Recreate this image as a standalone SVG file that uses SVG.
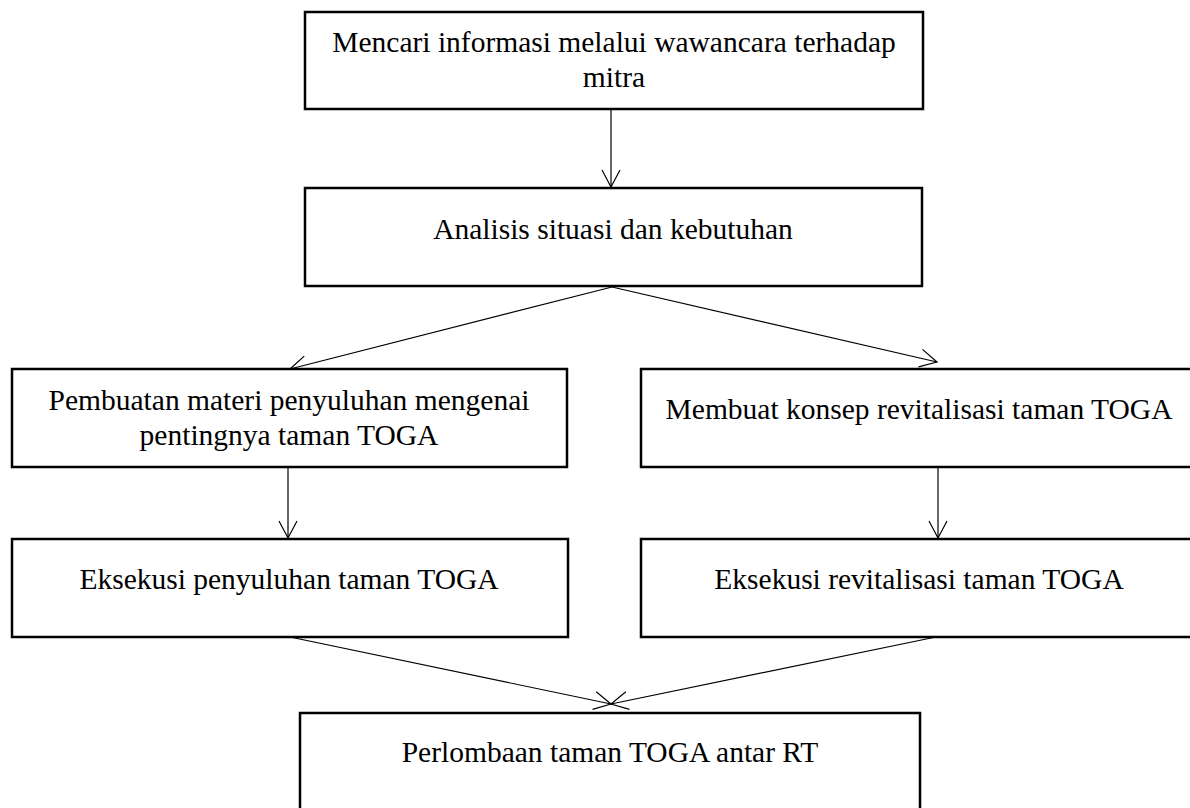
<svg xmlns="http://www.w3.org/2000/svg" width="1190" height="808" viewBox="0 0 1190 808">
<style>
.box{fill:#fff;stroke:#000;stroke-width:2.5}
.t{font-family:"Liberation Serif","Times New Roman",serif;font-size:29.5px;fill:#000;text-anchor:middle}
.c{stroke:#000;stroke-width:1.2;fill:none;marker-end:url(#ah)}
</style>
<defs>
<marker id="ah" markerUnits="userSpaceOnUse" markerWidth="22" markerHeight="22" refX="17" refY="9" orient="auto" overflow="visible">
<path d="M0,0 L17,9 L0,18" fill="none" stroke="#000" stroke-width="1.2"/>
</marker>
</defs>
<rect width="1190" height="808" fill="#fff"/>
<g id="connectors">
<line class="c" x1="611" y1="109" x2="611" y2="187"/>
<line class="c" x1="612" y1="287" x2="290" y2="369"/>
<line class="c" x1="612" y1="287" x2="937" y2="362"/>
<line class="c" x1="288" y1="467" x2="288" y2="538"/>
<line class="c" x1="938" y1="467" x2="938" y2="538"/>
<line class="c" x1="290" y1="637" x2="611" y2="704"/>
<line class="c" x1="936" y1="637" x2="611" y2="704"/>
</g>
<g id="n1"><rect class="box" x="305" y="12" width="618" height="97"/>
<text class="t" x="614" y="52">Mencari informasi melalui wawancara terhadap</text>
<text class="t" x="614" y="87">mitra</text></g>
<g id="n2"><rect class="box" x="305" y="188" width="617" height="98"/>
<text class="t" x="613" y="239">Analisis situasi dan kebutuhan</text></g>
<g id="n3"><rect class="box" x="12" y="369" width="555" height="98"/>
<text class="t" x="289" y="410">Pembuatan materi penyuluhan mengenai</text>
<text class="t" x="289" y="445">pentingnya taman TOGA</text></g>
<g id="n4"><rect class="box" x="641" y="369" width="556" height="98"/>
<text class="t" x="919" y="419">Membuat konsep revitalisasi taman TOGA</text></g>
<g id="n5"><rect class="box" x="12" y="539" width="556" height="98"/>
<text class="t" x="289" y="589">Eksekusi penyuluhan taman TOGA</text></g>
<g id="n6"><rect class="box" x="641" y="539" width="556" height="98"/>
<text class="t" x="919" y="589">Eksekusi revitalisasi taman TOGA</text></g>
<g id="n7"><rect class="box" x="300" y="713" width="620" height="110"/>
<text class="t" x="610" y="762">Perlombaan taman TOGA antar RT</text></g>
</svg>
